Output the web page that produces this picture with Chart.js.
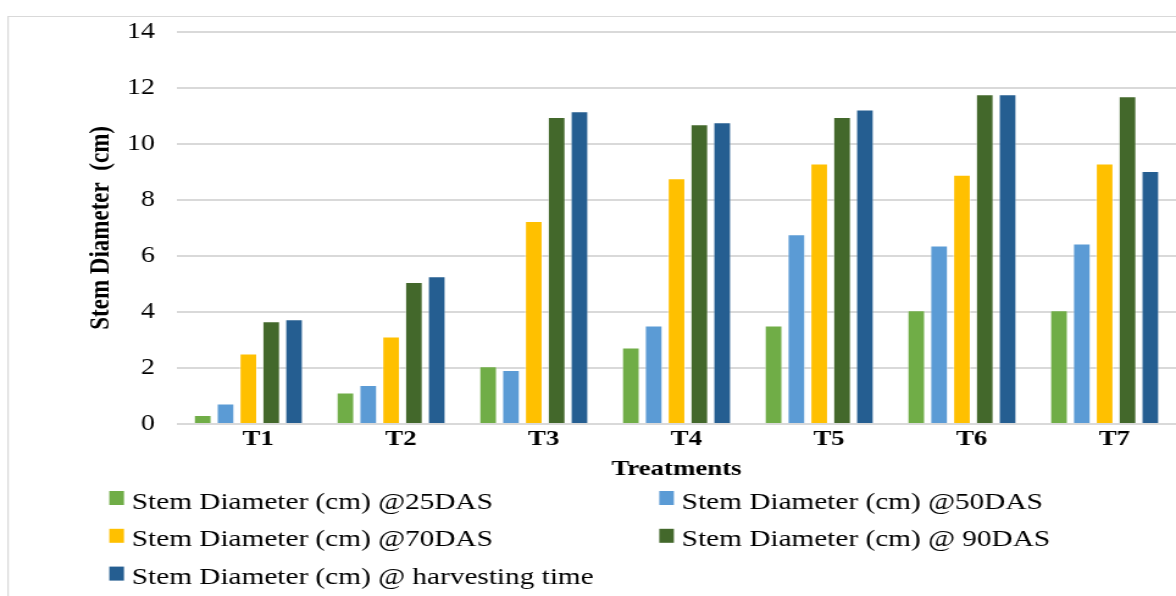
<!DOCTYPE html>
<html>
<head>
<meta charset="utf-8">
<title>Stem Diameter by Treatment</title>
<script src="https://cdn.jsdelivr.net/npm/chart.js@4.4.1/dist/chart.umd.min.js"></script>
<style>
  html, body { margin: 0; padding: 0; background: #fff; overflow: hidden; }
</style>
</head>
<body>
<!-- canvas is drawn narrower and widened by css, giving the wide Excel-export look -->
<canvas id="stemChart" width="964" height="596" style="width:1176px;height:596px;display:block"></canvas>
<script>
// treatments and measured stem diameter (cm) at each stage
const treatments = ["T1", "T2", "T3", "T4", "T5", "T6", "T7"];
const das25 = [0.32, 1.12, 2.06, 2.73, 3.52, 4.06, 4.06];
const das50 = [0.73, 1.39, 1.93, 3.52, 6.77, 6.37, 6.44];
const das70 = [2.52, 3.12, 7.25, 8.77, 9.30, 8.90, 9.30];
const das90 = [3.67, 5.07, 10.96, 10.70, 10.96, 11.77, 11.70];
const harvest = [3.74, 5.27, 11.16, 10.77, 11.23, 11.77, 9.03];

const seriesLabels = [
  "Stem Diameter (cm) @25DAS",
  "Stem Diameter (cm) @50DAS",
  "Stem Diameter (cm) @70DAS",
  "Stem Diameter (cm) @ 90DAS",
  "Stem Diameter (cm) @ harvesting time"
];
const seriesColors = ["#70AD47", "#5B9BD5", "#FFC000", "#43682B", "#255E91"];
const seriesValues = [das25, das50, das70, das90, harvest];

const yMin = 0;
const yMax = 14;
const yStep = 2;

const serif = "'Liberation Serif', 'Times New Roman', serif";

// white page and the light frame around the chart
const framePlugin = {
  id: "frame",
  beforeDraw(chart) {
    const { ctx, width, height } = chart;
    ctx.save();
    ctx.fillStyle = "#fff";
    ctx.fillRect(0, 0, width, height);
    ctx.strokeStyle = "#d9d9d9";
    ctx.lineWidth = 1.2;
    ctx.beginPath();
    ctx.moveTo(6.6, height);
    ctx.lineTo(6.6, 16.5);
    ctx.lineTo(width, 16.5);
    ctx.stroke();
    ctx.restore();
  }
};

// two-column legend under the axis title
const gridLegend = {
  id: "gridLegend",
  afterDraw(chart) {
    const { ctx } = chart;
    const cols = [89.6, 540.4];
    const firstRow = 498;
    const rowGap = 37.8;
    ctx.save();
    ctx.font = "24px " + serif;
    ctx.textBaseline = "alphabetic";
    ctx.textAlign = "left";
    chart.data.datasets.forEach((ds, i) => {
      const x = cols[i % 2];
      const cy = firstRow + Math.floor(i / 2) * rowGap;
      ctx.fillStyle = ds.backgroundColor;
      ctx.fillRect(x, cy - 7, 12, 14);
      ctx.fillStyle = "#000";
      ctx.fillText(ds.label, x + 18.4, cy + 10.5);
    });
    ctx.restore();
  }
};

const datasets = seriesLabels.map((label, i) => ({
  label: label,
  data: seriesValues[i],
  backgroundColor: seriesColors[i],
  borderColor: "rgba(255,255,255,0.45)",
  borderWidth: 1,
  categoryPercentage: 0.8,
  barPercentage: 0.79
}));

new Chart(document.getElementById("stemChart"), {
  type: "bar",
  data: { labels: treatments, datasets: datasets },
  options: {
    responsive: false,
    animation: false,
    devicePixelRatio: 1,
    layout: { padding: { left: 65, right: -3, top: 29, bottom: 115.6 } },
    plugins: {
      legend: { display: false },
      tooltip: { enabled: false }
    },
    scales: {
      x: {
        grid: { display: false, drawTicks: false },
        border: { display: false },
        ticks: {
          color: "#000",
          padding: 2,
          labelOffset: 8,
          font: { family: serif, size: 22, weight: "bold" }
        },
        title: {
          display: true,
          text: "Treatments",
          color: "#000",
          padding: { top: 4, bottom: 0 },
          font: { family: serif, size: 22, weight: "bold", lineHeight: 1 }
        }
      },
      y: {
        min: yMin,
        max: yMax,
        grid: { color: "#d9d9d9", lineWidth: 2, drawTicks: false },
        border: { display: false },
        ticks: {
          stepSize: yStep,
          color: "#000",
          padding: 18,
          font: { family: serif, size: 23 }
        },
        title: {
          display: true,
          text: "Stem Diameter  (cm)",
          color: "#000",
          padding: { top: 4, bottom: -10.5 },
          font: { family: serif, size: 23, weight: "bold" }
        }
      }
    }
  },
  plugins: [framePlugin, gridLegend]
});
</script>
</body>
</html>
